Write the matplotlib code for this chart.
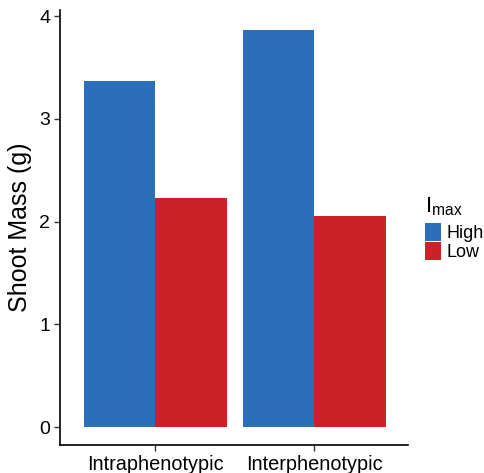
import matplotlib
matplotlib.use("Agg")
import matplotlib.pyplot as plt
import numpy as np
from matplotlib.patches import Patch

plt.rcParams['font.family'] = ['Liberation Sans', 'DejaVu Sans']

categories = ["Intraphenotypic", "Interphenotypic"]
series_names = ["High", "Low"]
high_values = [3.37, 3.87]
low_values = [2.23, 2.05]
colors = ["#2A6FB8", "#CB2228"]

fig = plt.figure(figsize=(4.85, 4.73), dpi=100)
ax = fig.add_axes([60/485, 28/473, 348/485, 435/473])

x = np.arange(1, len(categories) + 1)
w = 0.45
ax.bar(x - w/2, high_values, width=w, color=colors[0], linewidth=0)
ax.bar(x + w/2, low_values, width=w, color=colors[1], linewidth=0)

ax.set_xlim(0.4, 2.59)
ax.set_ylim(-0.175, 4.06)
ax.set_xticks(x)
ax.set_xticklabels(categories, fontsize=14.3)
ax.set_yticks([0, 1, 2, 3, 4])
ax.set_yticklabels(["0", "1", "2", "3", "4"], fontsize=14)
ax.set_ylabel("Shoot Mass (g)", fontsize=18, labelpad=5)

for s in ["top", "right"]:
    ax.spines[s].set_visible(False)
for s in ["left", "bottom"]:
    ax.spines[s].set_linewidth(1.2)
    ax.spines[s].set_color("black")
ax.tick_params(axis="both", direction="out", length=4, width=1.0, color="#333333", labelcolor="black", pad=3)

handles = [Patch(facecolor=colors[0], edgecolor="none"), Patch(facecolor=colors[1], edgecolor="none")]
leg = fig.legend(handles, series_names, loc="upper left", bbox_to_anchor=(425/485, 1 - 195/473),
                 frameon=False, fontsize=13, title=r"$\mathregular{I_{max}}$", title_fontsize=16,
                 handlelength=0.9, handleheight=1.15, handletextpad=0.3, labelspacing=0.0,
                 borderaxespad=0, borderpad=0)
leg._legend_box.align = "left"
leg._legend_box.sep = 4

fig.savefig("out.png", dpi=100)
